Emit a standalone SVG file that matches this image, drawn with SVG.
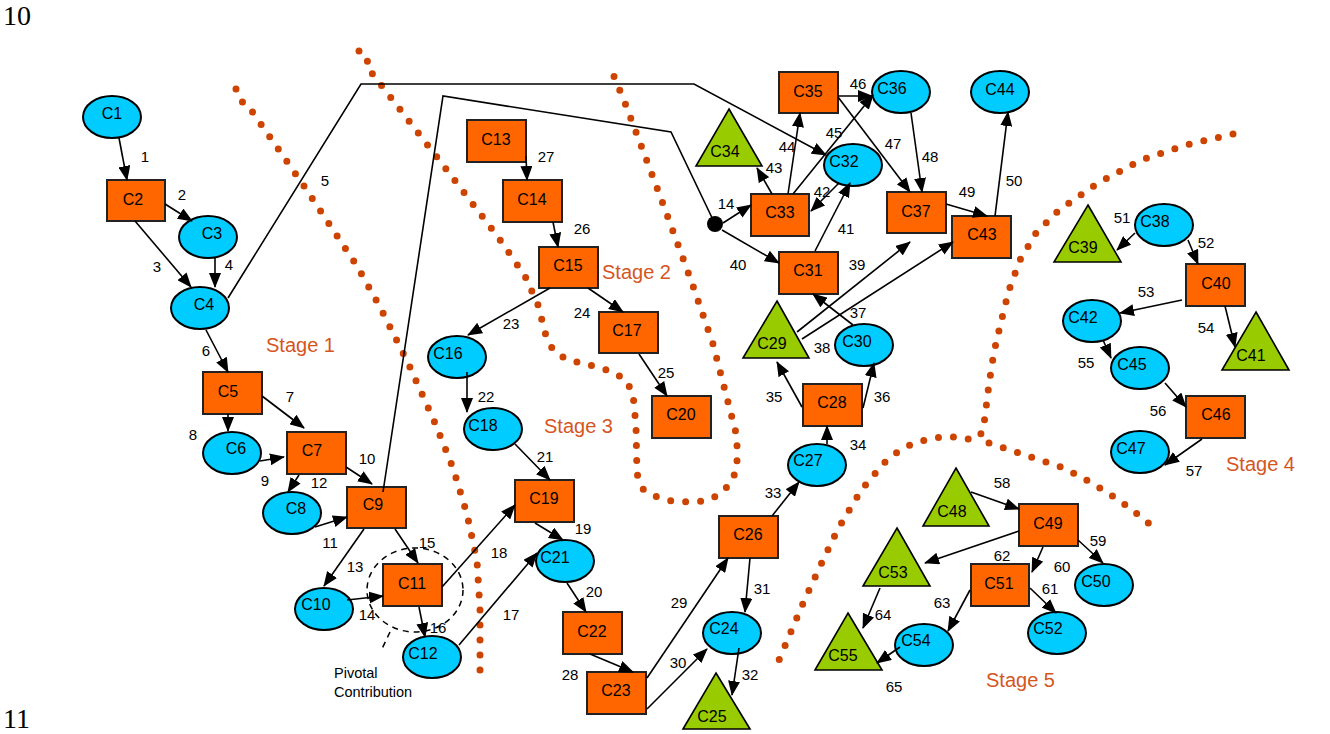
<svg xmlns="http://www.w3.org/2000/svg" width="1330" height="734" viewBox="0 0 1330 734">
<style>
.bg{fill:#ffffff}
.dots{fill:none;stroke:#CC4400;stroke-width:7;stroke-linecap:round;stroke-linejoin:round;stroke-dasharray:0 15}
.rect{fill:#FF6600;stroke:#222;stroke-width:2}
.ell{fill:#00CCFF;stroke:#000;stroke-width:2}
.tri{fill:#99CC00;stroke:#000;stroke-width:1.6}
.nt{font-family:"Liberation Sans",Arial,sans-serif;font-size:16px;fill:#000;text-anchor:middle}
.el{font-family:"Liberation Sans",Arial,sans-serif;font-size:15px;fill:#000;text-anchor:middle}
.st{font-family:"Liberation Sans",Arial,sans-serif;font-size:20px;fill:#D4561E}
.pg{font-family:"Liberation Serif","Times New Roman",serif;font-size:28px;fill:#000}
.pv{font-family:"Liberation Sans",Arial,sans-serif;font-size:14.5px;fill:#000}
.e{fill:none;stroke:#000;stroke-width:1.6;marker-end:url(#ah)}
.ln{fill:none;stroke:#000;stroke-width:1.6}
</style>
<defs>
<marker id="ah" markerUnits="userSpaceOnUse" markerWidth="15" markerHeight="12" refX="14" refY="6" orient="auto">
<path d="M0,0 L15,6 L0,12 z" fill="#000"/>
</marker>
</defs>
<rect class="bg" x="0" y="0" width="1330" height="734"/>
<text class="pg" x="3" y="25">10</text>
<text class="pg" x="3" y="728">11</text>

<g id="boundaries">
<polyline class="dots" points="236,89 240,93 243,104 249,107 304,186 357,266 380,307 409,365 435,423 453,468 467,514 477,561 480,609 480,675"/>
<polyline class="dots" points="359,51 361,59 370,62 371,72 440,161 498,237 525,276 538,305 546,336 553,350 566,359 581,363 597,367 613,372 626,380 633,394 636,426 637,474 643,489 657,497 672,501 688,502 704,501 719,495 730,484 737,469 737,437 729,406 713,344 692,283 659,193 625,103 613,74"/>
<polyline class="dots" points="1233,134 1186,145 1141,160 1098,183 1059,210 1036,233 1020,260 1009,290 1001,322 994,352 989,384 985,416 983,432 973,440 957,437 941,437 925,440 910,445 896,453 884,463 873,476 863,488 854,502 838,529 824,558 804,601 779,660"/>
<polyline class="dots" points="989,443 1004,448 1034,458 1064,468 1092,483 1119,500 1145,520 1157,531"/>
</g>

<text class="st" x="266" y="352">Stage 1</text>
<text class="st" x="602" y="279">Stage 2</text>
<text class="st" x="544" y="433">Stage 3</text>
<text class="st" x="1226" y="471">Stage 4</text>
<text class="st" x="986" y="687">Stage 5</text>

<g id="pivotal">
<ellipse cx="415" cy="590" rx="48" ry="42" fill="none" stroke="#000" stroke-width="1.5" stroke-dasharray="6 5"/>
<line x1="390" y1="632" x2="381" y2="651" stroke="#000" stroke-width="1.5" stroke-dasharray="6 5"/>
<text class="pv" x="334" y="678">Pivotal</text>
<text class="pv" x="334" y="697">Contribution</text>
</g>

<g id="nodes">
<g id="C1"><ellipse class="ell" cx="112" cy="117" rx="29" ry="21"/><text class="nt" x="112" y="119">C1</text></g>
<g id="C2"><rect class="rect" x="107" y="180" width="58" height="41"/><text class="nt" x="133" y="205">C2</text></g>
<g id="C3"><ellipse class="ell" cx="208" cy="237" rx="29" ry="21"/><text class="nt" x="212" y="239">C3</text></g>
<g id="C4"><ellipse class="ell" cx="200" cy="308" rx="29" ry="21"/><text class="nt" x="204" y="310">C4</text></g>
<g id="C5"><rect class="rect" x="203" y="372" width="59" height="42"/><text class="nt" x="228" y="397">C5</text></g>
<g id="C6"><ellipse class="ell" cx="232" cy="453" rx="29" ry="21"/><text class="nt" x="236" y="454">C6</text></g>
<g id="C7"><rect class="rect" x="287" y="432" width="59" height="42"/><text class="nt" x="312" y="456">C7</text></g>
<g id="C8"><ellipse class="ell" cx="292" cy="513" rx="29" ry="21"/><text class="nt" x="296" y="514">C8</text></g>
<g id="C9"><rect class="rect" x="347" y="487" width="59" height="41"/><text class="nt" x="373" y="510">C9</text></g>
<g id="C10"><ellipse class="ell" cx="324" cy="609" rx="29" ry="21"/><text class="nt" x="316" y="610">C10</text></g>
<g id="C11"><rect class="rect" x="383" y="564" width="59" height="42"/><text class="nt" x="412" y="589">C11</text></g>
<g id="C12"><ellipse class="ell" cx="432" cy="657" rx="29" ry="21"/><text class="nt" x="423" y="659">C12</text></g>
<g id="C13"><rect class="rect" x="467" y="120" width="59" height="42"/><text class="nt" x="496" y="145">C13</text></g>
<g id="C14"><rect class="rect" x="503" y="180" width="59" height="42"/><text class="nt" x="532" y="205">C14</text></g>
<g id="C15"><rect class="rect" x="539" y="247" width="59" height="41"/><text class="nt" x="568" y="271">C15</text></g>
<g id="C16"><ellipse class="ell" cx="457" cy="357" rx="29" ry="21"/><text class="nt" x="448" y="359">C16</text></g>
<g id="C17"><rect class="rect" x="599" y="312" width="59" height="41"/><text class="nt" x="627" y="336">C17</text></g>
<g id="C18"><ellipse class="ell" cx="493" cy="429" rx="29" ry="21"/><text class="nt" x="483" y="431">C18</text></g>
<g id="C19"><rect class="rect" x="515" y="480" width="59" height="42"/><text class="nt" x="544" y="504">C19</text></g>
<g id="C20"><rect class="rect" x="652" y="396" width="59" height="42"/><text class="nt" x="681" y="420">C20</text></g>
<g id="C21"><ellipse class="ell" cx="565" cy="561" rx="29" ry="21"/><text class="nt" x="555" y="563">C21</text></g>
<g id="C22"><rect class="rect" x="563" y="612" width="59" height="42"/><text class="nt" x="592" y="637">C22</text></g>
<g id="C23"><rect class="rect" x="587" y="672" width="59" height="42"/><text class="nt" x="616" y="696">C23</text></g>
<g id="C24"><ellipse class="ell" cx="732" cy="633" rx="29" ry="21"/><text class="nt" x="724" y="634">C24</text></g>
<g id="C25"><polygon class="tri" points="716,673 750,729 683,729"/><text class="nt" x="712" y="722">C25</text></g>
<g id="C26"><rect class="rect" x="719" y="516" width="59" height="42"/><text class="nt" x="748" y="540">C26</text></g>
<g id="C27"><ellipse class="ell" cx="817" cy="465" rx="29" ry="21"/><text class="nt" x="808" y="466">C27</text></g>
<g id="C28"><rect class="rect" x="803" y="384" width="59" height="42"/><text class="nt" x="832" y="408">C28</text></g>
<g id="C29"><polygon class="tri" points="777,301 809,358 743,358"/><text class="nt" x="772" y="349">C29</text></g>
<g id="C30"><ellipse class="ell" cx="864" cy="345" rx="29" ry="21"/><text class="nt" x="857" y="347">C30</text></g>
<g id="C31"><rect class="rect" x="779" y="252" width="59" height="42"/><text class="nt" x="808" y="276">C31</text></g>
<g id="C32"><ellipse class="ell" cx="853" cy="165" rx="29" ry="21"/><text class="nt" x="844" y="167">C32</text></g>
<g id="C33"><rect class="rect" x="751" y="194" width="58" height="42"/><text class="nt" x="780" y="218">C33</text></g>
<g id="C34"><polygon class="tri" points="729,109 762,166 696,166"/><text class="nt" x="725" y="157">C34</text></g>
<g id="C35"><rect class="rect" x="779" y="72" width="59" height="41"/><text class="nt" x="808" y="97">C35</text></g>
<g id="C36"><ellipse class="ell" cx="901" cy="92" rx="29" ry="21"/><text class="nt" x="892" y="94">C36</text></g>
<g id="C37"><rect class="rect" x="887" y="192" width="59" height="41"/><text class="nt" x="916" y="217">C37</text></g>
<g id="C38"><ellipse class="ell" cx="1164" cy="225" rx="29" ry="21"/><text class="nt" x="1155" y="227">C38</text></g>
<g id="C39"><polygon class="tri" points="1088,205 1121,262 1054,262"/><text class="nt" x="1083" y="253">C39</text></g>
<g id="C40"><rect class="rect" x="1186" y="264" width="59" height="42"/><text class="nt" x="1216" y="289">C40</text></g>
<g id="C41"><polygon class="tri" points="1256,312 1289,370 1222,370"/><text class="nt" x="1251" y="361">C41</text></g>
<g id="C42"><ellipse class="ell" cx="1092" cy="321" rx="29" ry="21"/><text class="nt" x="1083" y="323">C42</text></g>
<g id="C43"><rect class="rect" x="952" y="216" width="59" height="42"/><text class="nt" x="982" y="240">C43</text></g>
<g id="C44"><ellipse class="ell" cx="1000" cy="92" rx="29" ry="21"/><text class="nt" x="1000" y="95">C44</text></g>
<g id="C45"><ellipse class="ell" cx="1140" cy="368" rx="29" ry="21"/><text class="nt" x="1132" y="370">C45</text></g>
<g id="C46"><rect class="rect" x="1186" y="396" width="59" height="42"/><text class="nt" x="1216" y="420">C46</text></g>
<g id="C47"><ellipse class="ell" cx="1140" cy="452" rx="29" ry="21"/><text class="nt" x="1131" y="454">C47</text></g>
<g id="C48"><polygon class="tri" points="956,468 989,526 923,526"/><text class="nt" x="952" y="517">C48</text></g>
<g id="C49"><rect class="rect" x="1019" y="504" width="59" height="42"/><text class="nt" x="1048" y="529">C49</text></g>
<g id="C50"><ellipse class="ell" cx="1104" cy="585" rx="29" ry="21"/><text class="nt" x="1096" y="587">C50</text></g>
<g id="C51"><rect class="rect" x="971" y="564" width="58" height="42"/><text class="nt" x="999" y="589">C51</text></g>
<g id="C52"><ellipse class="ell" cx="1057" cy="633" rx="29" ry="21"/><text class="nt" x="1048" y="634">C52</text></g>
<g id="C53"><polygon class="tri" points="897,528 930,586 863,586"/><text class="nt" x="893" y="578">C53</text></g>
<g id="C54"><ellipse class="ell" cx="924" cy="645" rx="29" ry="21"/><text class="nt" x="916" y="646">C54</text></g>
<g id="C55"><polygon class="tri" points="848,613 882,670 815,670"/><text class="nt" x="843" y="661">C55</text></g>
</g>

<g id="connectors">
<line class="e" x1="119" y1="138" x2="127" y2="180"/>
<line class="e" x1="165" y1="204" x2="192" y2="221"/>
<line class="e" x1="135" y1="221" x2="191" y2="287"/>
<line class="e" x1="215" y1="257" x2="215" y2="287"/>
<polyline class="e" points="228,298 361,84 694,84 826,155"/>
<line class="e" x1="206" y1="330" x2="228" y2="372"/>
<line class="e" x1="262" y1="396" x2="304" y2="428"/>
<line class="e" x1="228" y1="414" x2="228" y2="431"/>
<line class="e" x1="260" y1="461" x2="284" y2="457"/>
<line class="e" x1="346" y1="467" x2="372" y2="484"/>
<line class="e" x1="299" y1="475" x2="288" y2="492"/>
<line class="e" x1="315" y1="527" x2="347" y2="517"/>
<line class="e" x1="364" y1="529" x2="324" y2="586"/>
<line class="e" x1="395" y1="529" x2="418" y2="563"/>
<line class="e" x1="347" y1="600" x2="383" y2="596"/>
<line class="e" x1="419" y1="607" x2="425" y2="637"/>
<line class="e" x1="442" y1="587" x2="515" y2="505"/>
<line class="e" x1="459" y1="645" x2="537" y2="553"/>
<polyline class="ln" points="383,492 443,96 671,132 715,224"/>
<circle cx="715" cy="224" r="8" fill="#000"/>
<line class="e" x1="535" y1="523" x2="563" y2="540"/>
<line class="e" x1="567" y1="583" x2="586" y2="612"/>
<line class="e" x1="515" y1="444" x2="550" y2="480"/>
<line class="e" x1="467" y1="372" x2="467" y2="412"/>
<line class="e" x1="550" y1="288" x2="468" y2="335"/>
<line class="e" x1="588" y1="288" x2="623" y2="312"/>
<line class="e" x1="639" y1="354" x2="667" y2="396"/>
<line class="e" x1="553" y1="222" x2="558" y2="247"/>
<line class="e" x1="526" y1="156" x2="527" y2="180"/>
<line class="e" x1="590" y1="654" x2="633" y2="672"/>
<line class="e" x1="647" y1="678" x2="728" y2="558"/>
<line class="e" x1="647" y1="709" x2="707" y2="649"/>
<line class="e" x1="750" y1="558" x2="745" y2="612"/>
<line class="e" x1="739" y1="648" x2="732" y2="695"/>
<line class="e" x1="772" y1="516" x2="799" y2="482"/>
<line class="e" x1="827" y1="444" x2="827" y2="426"/>
<line class="e" x1="802" y1="407" x2="777" y2="362"/>
<line class="e" x1="863" y1="408" x2="874" y2="363"/>
<line class="e" x1="853" y1="325" x2="813" y2="294"/>
<line class="e" x1="802" y1="339" x2="953" y2="242"/>
<line class="e" x1="797" y1="332" x2="910" y2="242"/>
<line class="e" x1="722" y1="230" x2="779" y2="263"/>
<line class="e" x1="723" y1="223" x2="751" y2="205"/>
<line class="e" x1="815" y1="251" x2="850" y2="183"/>
<line class="e" x1="839" y1="183" x2="811" y2="211"/>
<line class="e" x1="772" y1="194" x2="757" y2="168"/>
<line class="e" x1="788" y1="194" x2="800" y2="113"/>
<line class="e" x1="793" y1="194" x2="873" y2="95"/>
<line class="e" x1="838" y1="96" x2="872" y2="96"/>
<line class="e" x1="838" y1="97" x2="910" y2="192"/>
<line class="e" x1="911" y1="113" x2="922" y2="192"/>
<line class="e" x1="946" y1="204" x2="987" y2="216"/>
<line class="e" x1="995" y1="216" x2="1008" y2="112"/>
<line class="e" x1="1135" y1="233" x2="1117" y2="250"/>
<line class="e" x1="1188" y1="240" x2="1198" y2="264"/>
<line class="e" x1="1182" y1="300" x2="1120" y2="313"/>
<line class="e" x1="1225" y1="306" x2="1235" y2="347"/>
<line class="e" x1="1103" y1="340" x2="1111" y2="358"/>
<line class="e" x1="1165" y1="383" x2="1186" y2="407"/>
<line class="e" x1="1202" y1="439" x2="1165" y2="465"/>
<line class="e" x1="971" y1="492" x2="1019" y2="509"/>
<line class="e" x1="1078" y1="540" x2="1103" y2="563"/>
<line class="e" x1="1043" y1="547" x2="1032" y2="572"/>
<line class="e" x1="1030" y1="588" x2="1056" y2="613"/>
<line class="e" x1="1019" y1="531" x2="925" y2="563"/>
<line class="e" x1="970" y1="590" x2="948" y2="631"/>
<line class="e" x1="880" y1="588" x2="863" y2="628"/>
<line class="e" x1="900" y1="647" x2="877" y2="663"/>
</g>

<g id="edge-labels">
<text class="el" x="145" y="162">1</text>
<text class="el" x="182" y="200">2</text>
<text class="el" x="157" y="272">3</text>
<text class="el" x="229" y="270">4</text>
<text class="el" x="325" y="186">5</text>
<text class="el" x="206" y="356">6</text>
<text class="el" x="290" y="402">7</text>
<text class="el" x="193" y="440">8</text>
<text class="el" x="265" y="486">9</text>
<text class="el" x="367" y="464">10</text>
<text class="el" x="330" y="548">11</text>
<text class="el" x="319" y="488">12</text>
<text class="el" x="355" y="572">13</text>
<text class="el" x="367" y="620">14</text>
<text class="el" x="427" y="548">15</text>
<text class="el" x="438" y="633">16</text>
<text class="el" x="511" y="620">17</text>
<text class="el" x="499" y="558">18</text>
<text class="el" x="583" y="534">19</text>
<text class="el" x="594" y="597">20</text>
<text class="el" x="545" y="462">21</text>
<text class="el" x="486" y="402">22</text>
<text class="el" x="511" y="329">23</text>
<text class="el" x="582" y="318">24</text>
<text class="el" x="666" y="378">25</text>
<text class="el" x="582" y="234">26</text>
<text class="el" x="546" y="162">27</text>
<text class="el" x="570" y="680">28</text>
<text class="el" x="679" y="608">29</text>
<text class="el" x="678" y="668">30</text>
<text class="el" x="762" y="594">31</text>
<text class="el" x="750" y="680">32</text>
<text class="el" x="773" y="498">33</text>
<text class="el" x="858" y="450">34</text>
<text class="el" x="774" y="402">35</text>
<text class="el" x="882" y="402">36</text>
<text class="el" x="858" y="318">37</text>
<text class="el" x="822" y="353">38</text>
<text class="el" x="857" y="270">39</text>
<text class="el" x="738" y="270">40</text>
<text class="el" x="846" y="234">41</text>
<text class="el" x="822" y="197">42</text>
<text class="el" x="774" y="173">43</text>
<text class="el" x="787" y="152">44</text>
<text class="el" x="834" y="138">45</text>
<text class="el" x="858" y="89">46</text>
<text class="el" x="893" y="149">47</text>
<text class="el" x="930" y="162">48</text>
<text class="el" x="967" y="197">49</text>
<text class="el" x="1014" y="186">50</text>
<text class="el" x="1122" y="223">51</text>
<text class="el" x="1206" y="248">52</text>
<text class="el" x="1146" y="297">53</text>
<text class="el" x="1206" y="333">54</text>
<text class="el" x="1086" y="368">55</text>
<text class="el" x="1158" y="416">56</text>
<text class="el" x="1194" y="476">57</text>
<text class="el" x="1002" y="488">58</text>
<text class="el" x="1098" y="546">59</text>
<text class="el" x="1062" y="572">60</text>
<text class="el" x="1050" y="594">61</text>
<text class="el" x="1002" y="561">62</text>
<text class="el" x="942" y="608">63</text>
<text class="el" x="883" y="620">64</text>
<text class="el" x="894" y="692">65</text>
<text class="el" x="726" y="209">14</text>
</g>
</svg>
